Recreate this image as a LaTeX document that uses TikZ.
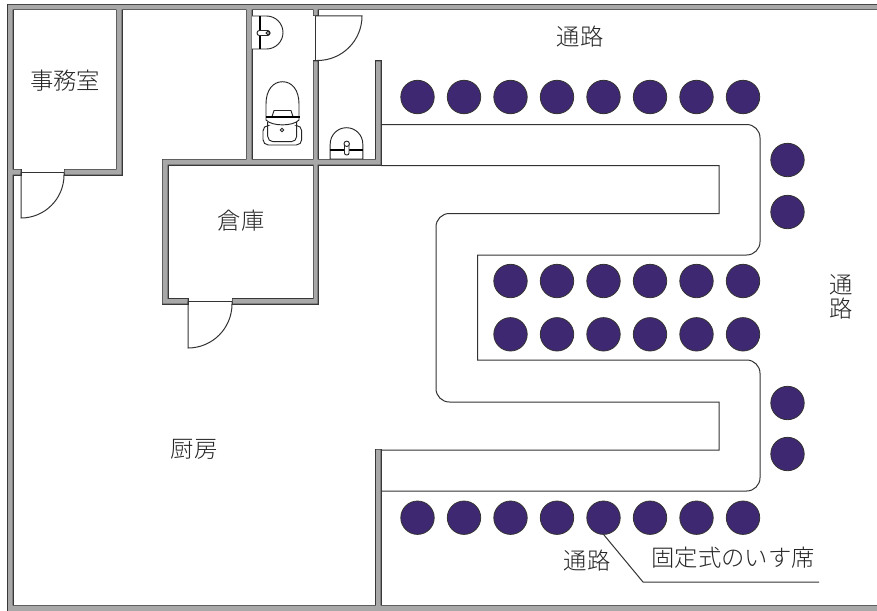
\documentclass[tikz,border=0pt]{standalone}
\usepackage{fontspec}
\newfontfamily\cjk{Noto Sans CJK JP}[UprightFont=* Light]
\newcommand{\wallpath}{
  (8,5) rectangle (12.5,615)
  (8,5) rectangle (885,9.5)
  (8,605.5) rectangle (885,615)
  (116.5,9) rectangle (121.5,174.5)
  (64.5,169.5) rectangle (121.5,174.5)
  (12,169.5) rectangle (20.5,174.5)
  (246.5,9) rectangle (251.5,164.5)
  (162.5,159.5) rectangle (380.5,164.5)
  (162.5,159.5) rectangle (167.5,303.5)
  (162.5,299) rectangle (187.5,303.5)
  (232.5,299) rectangle (317.5,303.5)
  (313.5,61.5) rectangle (317.5,303.5)
  (313.5,9) rectangle (317.5,15.5)
  (376,61.5) rectangle (380.5,164.5)
  (376,449.5) rectangle (380.5,615)
}
\tikzset{
  thin line/.style={draw=black!80,line width=0.75pt},
  fixture/.style={draw=black!85,line width=0.7pt,fill=white},
  heavy/.style={draw=black,line width=1.5pt},
  seat/.style={draw=black!80,line width=0.6pt,fill=seatcol},
  lab/.style={font=\cjk\fontsize{17.5}{19}\selectfont,text=black!85,inner sep=0pt},
}
\definecolor{seatcol}{HTML}{3F2872}
\begin{document}
\begin{tikzpicture}[x=0.75pt,y=-0.75pt]
\useasboundingbox (0,0) rectangle (877,610);
\clip (0,0) rectangle (877,610);
\fill[white] (0,0) rectangle (877,610);
% walls
\draw[draw=black!78,line width=1.5pt,fill=black!78] \wallpath;
\fill[black!34] \wallpath;
% door sill lines
\draw[thin line] (21,172.5) -- (64,172.5);
\draw[thin line] (188,301.5) -- (232,301.5);
\draw[thin line] (315.5,16) -- (315.5,61);
% doors
\draw[thin line] (21,172.5) -- (21,218) arc[start angle=90,end angle=0,radius=43] -- (64,172.5);
\draw[thin line] (188,301.5) -- (188,348) arc[start angle=90,end angle=0,radius=44] -- (232,301.5);
\draw[thin line] (315.5,16) -- (362,16) arc[start angle=0,end angle=90,radius=44.5];
% aisle outlines
\draw[thin line,rounded corners=10pt] (381,124.5) -- (760,124.5) -- (760,255) [sharp corners] -- (477.5,255) -- (477.5,360) [rounded corners=10pt] -- (760,360) -- (760,491) -- (381,491);
\draw[thin line] (381,165.5) -- (719,165.5) -- (719,213.5) [rounded corners=10pt] -- (436,213.5) -- (436,402) [sharp corners] -- (719,402) -- (719,450) -- (381,450);
% washbasin
\draw[fixture] (252,16) -- (266.5,16) arc[start angle=-90,end angle=90,radius=16.5] -- (252,49);
\draw[heavy,line width=1.1pt] (260,16) -- (260,49);
\draw[fixture,rounded corners=1.8pt] (257,30.5) rectangle (270,35.5);
\draw[fixture] (268,33) circle[radius=1.9];
% toilet
\draw[fixture] (266,116.7) -- (266,104) .. controls (266,90) and (273,81.7) .. (282.5,81.7) .. controls (292,81.7) and (299,90) .. (299,104) -- (299,116.7);
\draw[fixture] (272,116.7) -- (274,110.5) -- (291,110.5) -- (293,116.7);
\draw[fixture,fill=none,rounded corners=4pt] (268,125.5) -- (263,125.5) -- (263,145) -- (301.7,145) -- (301.7,125.5) -- (297,125.5);
\draw[fixture,fill=none,rounded corners=4pt] (267.7,122) -- (267.7,141.7) -- (296.7,141.7) -- (296.7,122);
\draw[fixture,fill=none] (266,116.7) -- (266,120) .. controls (272,126.5) and (293,126.5) .. (299,120) -- (299,116.7);
\draw[heavy] (265.5,116.7) -- (299.5,116.7);
\draw[fixture] (282,130) circle[radius=1.7];
% small sink
\draw[fixture] (330.2,159) -- (330.2,144) arc[start angle=180,end angle=360,radius=16.3] -- (362.8,159) -- cycle;
\draw[heavy,line width=1.1pt] (330.2,150) -- (362.8,150);
\draw[fixture,rounded corners=1.5pt] (344.5,142) rectangle (349,155);
\draw[fixture] (346.7,143.8) circle[radius=2.7];
% seats
\foreach \x in {417.5,464,510.5,557,603.5,650,696.5,743}{
  \draw[seat] (\x,97) circle[radius=16.7];
  \draw[seat] (\x,517.7) circle[radius=16.7];
}
\foreach \x in {510.5,557,603.5,650,696.5,743}{
  \draw[seat] (\x,281) circle[radius=16.7];
  \draw[seat] (\x,334.3) circle[radius=16.7];
}
\foreach \y in {160,212,403,454}{
  \draw[seat] (787.5,\y) circle[radius=16.7];
}
% leader
\coordinate (lead0) at (603.5,534.4);
\coordinate (lead1) at (643,582);
\coordinate (lead2) at (819,582);
\draw[thin line] (lead0) -- (lead1) -- (lead2);
% labels
\node[lab] (office) at (65,81) {事務室};
\node[lab] (store) at (241,221) {倉庫};
\node[lab] (kitchen) at (194,449) {厨房};
\node[lab] (aisleT) at (580,37) {通路};
\node[lab] (aisleB) at (587,561) {通路};
\node[lab] (aisleR1) at (841,285) {通};
\node[lab] (aisleR2) at (841,309) {路};
\node[lab] (seatlab) at (733,558) {固定式のいす席};
\end{tikzpicture}
\end{document}
